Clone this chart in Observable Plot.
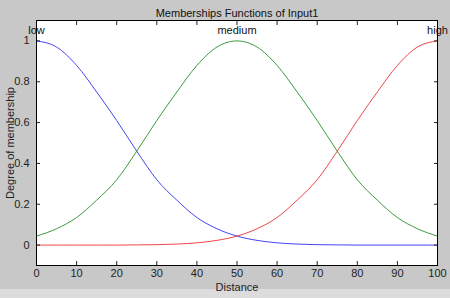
<!DOCTYPE html>
<html>
<head>
<meta charset="utf-8">
<script src="https://cdn.jsdelivr.net/npm/d3@7"></script>
<script src="https://cdn.jsdelivr.net/npm/@observablehq/plot@0.6"></script>
<style>
  html, body { margin: 0; padding: 0; background: #c8c8c8; }
</style>
</head>
<body>
<div id="chart"></div>
<script>
const distance = [0, 5, 10, 15, 20, 25, 30, 35, 40, 45, 50, 55, 60, 65, 70, 75, 80, 85, 90, 95, 100];
const low    = [1, 0.97, 0.88, 0.75, 0.61, 0.46, 0.32, 0.22, 0.135, 0.08, 0.044, 0.023, 0.011, 0.005, 0.002, 0.001, 0, 0, 0, 0, 0];
const medium = [0.044, 0.08, 0.135, 0.22, 0.32, 0.46, 0.61, 0.75, 0.88, 0.97, 1, 0.97, 0.88, 0.75, 0.61, 0.46, 0.32, 0.22, 0.135, 0.08, 0.044];
const high   = [0, 0, 0, 0, 0, 0.001, 0.002, 0.005, 0.011, 0.023, 0.044, 0.08, 0.135, 0.22, 0.32, 0.46, 0.61, 0.75, 0.88, 0.97, 1];
const mfNames = ["low", "medium", "high"];
const mfPeaks = [0, 50, 100];
const xTicks = [0, 10, 20, 30, 40, 50, 60, 70, 80, 90, 100];
const yTicks = [0, 0.2, 0.4, 0.6, 0.8, 1];
const title = "Memberships Functions of Input1";

const series = [
  {name: "low", values: low, color: "#4646f0"},
  {name: "medium", values: medium, color: "#3c9a3c"},
  {name: "high", values: high, color: "#f04848"}
];
const rows = series.flatMap(s => distance.map((d, i) => ({x: d, y: s.values[i], name: s.name})));
const labels = mfNames.map((n, i) => ({name: n, x: mfPeaks[i], y: 1.05}));

const blank = () => "";
const plain = d => `${d}`;
const chart = Plot.plot({
  width: 450,
  height: 298,
  marginLeft: 36,
  marginRight: 13,
  marginTop: 20,
  marginBottom: 33,
  style: {background: "linear-gradient(#c8c8c8 289px, #dcdcdc 289px)", fontFamily: "Liberation Sans, Arial, sans-serif", fontSize: "11px", color: "#222"},
  x: {domain: [0, 100]},
  y: {domain: [-0.1, 1.1]},
  color: {domain: series.map(s => s.name), range: series.map(s => s.color)},
  marks: [
    Plot.frame({fill: "white", stroke: "none"}),
    Plot.line(rows, {x: "x", y: "y", z: "name", stroke: "name", strokeWidth: 1, curve: "monotone-x"}),
    Plot.text(labels, {x: "x", y: "y", text: "name", fill: "#111", fontSize: 11}),
    Plot.axisX({ticks: xTicks, tickSize: -4, tickFormat: blank, label: null, stroke: "#222"}),
    Plot.axisX({anchor: "top", ticks: xTicks, tickSize: -4, tickFormat: blank, label: null, stroke: "#222"}),
    Plot.axisY({ticks: yTicks, tickSize: -4, tickFormat: blank, label: null, stroke: "#222"}),
    Plot.axisY({anchor: "right", ticks: yTicks, tickSize: -4, tickFormat: blank, label: null, stroke: "#222"}),
    Plot.axisX({ticks: xTicks, tickSize: 0, tickPadding: 4, tickFormat: plain, fill: "#222", label: "Distance", labelAnchor: "center", labelArrow: "none", labelOffset: 25}),
    Plot.axisY({ticks: yTicks, tickSize: 0, tickPadding: 7, tickFormat: plain, fill: "#222", label: "Degree of membership", labelAnchor: "center", labelArrow: "none", labelOffset: 30}),
    Plot.frame({stroke: "#000", strokeWidth: 1}),
    Plot.text([title], {frameAnchor: "top", dy: -11, fill: "#111", fontSize: 11})
  ]
});
document.getElementById("chart").appendChild(chart);
</script>
</body>
</html>
